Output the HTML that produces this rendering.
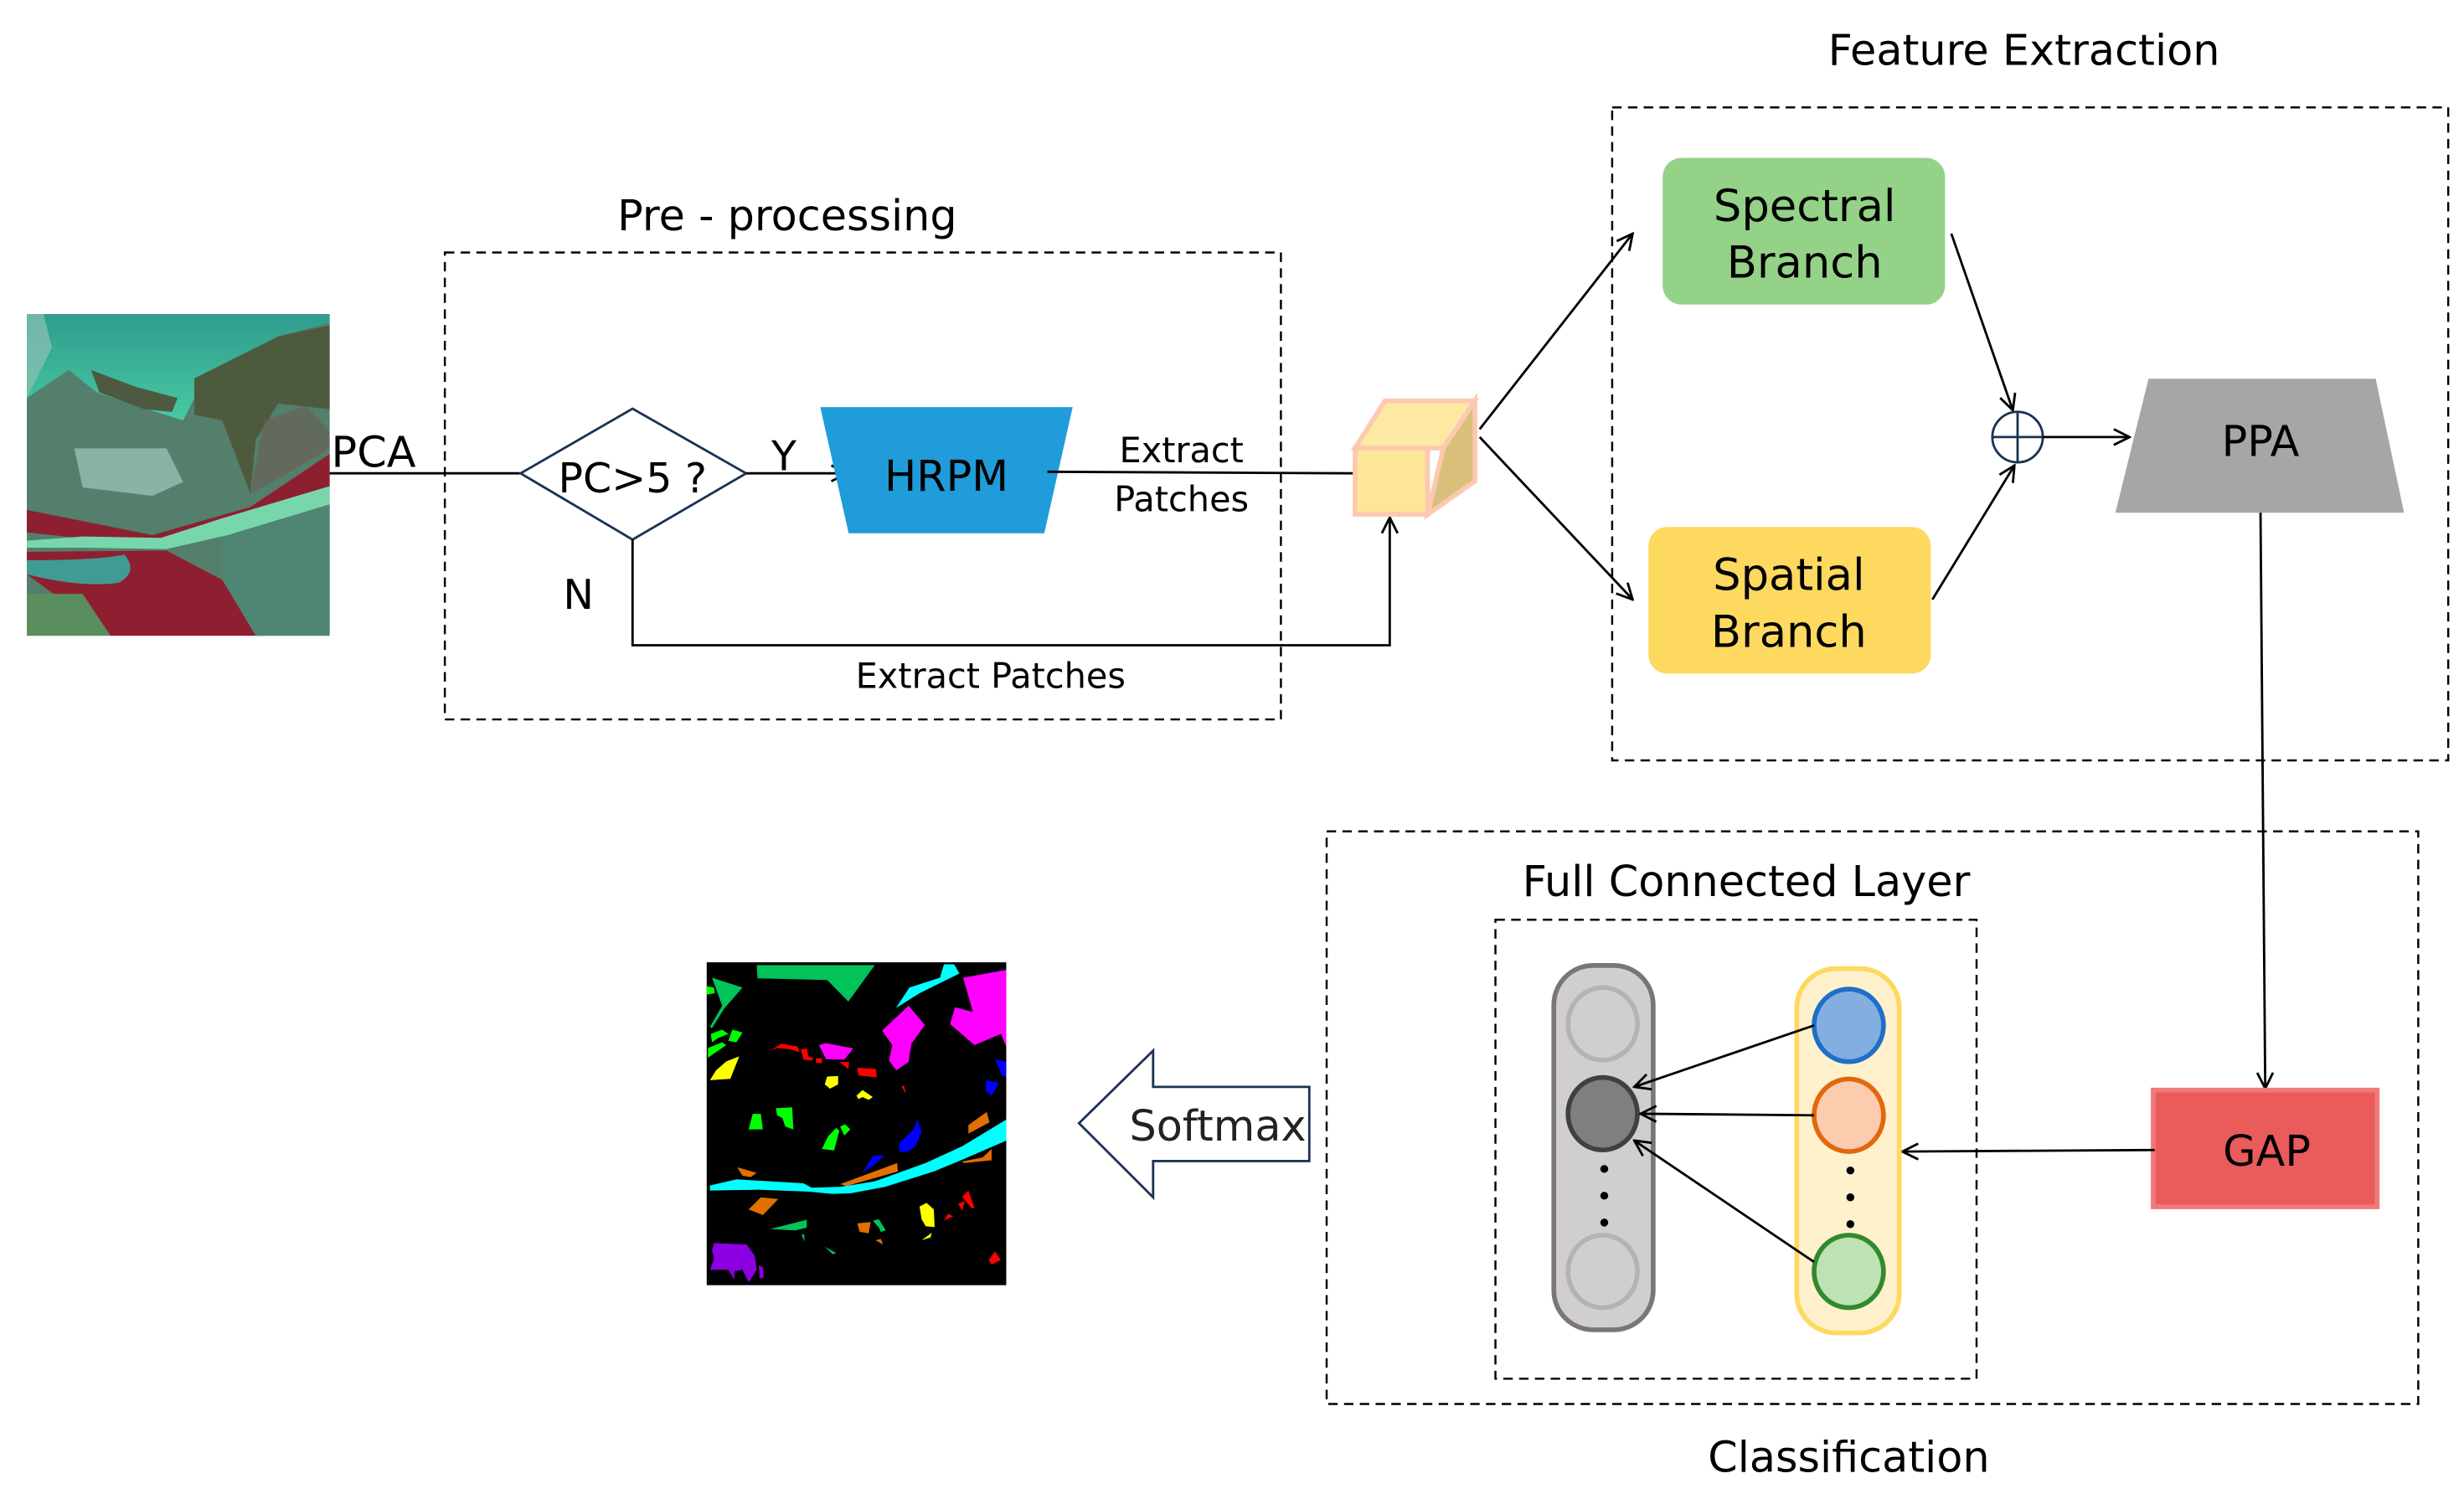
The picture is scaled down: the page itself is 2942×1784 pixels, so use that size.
<!DOCTYPE html>
<html><head><meta charset="utf-8"><style>
html,body{margin:0;padding:0;background:#fff;}
svg{display:block;}
text{font-family:"DejaVu Sans","Liberation Sans",sans-serif;}
</style></head><body>
<svg width="2942" height="1784" viewBox="0 0 1562 947" xmlns="http://www.w3.org/2000/svg">
<defs>
<marker id="ar" viewBox="0 0 12 12" refX="11" refY="6" markerWidth="12" markerHeight="12" markerUnits="userSpaceOnUse" orient="auto">
<polyline points="1,1 11,6 1,11" fill="none" stroke="#000" stroke-width="1.5"/>
</marker>
<linearGradient id="wat" x1="0" y1="0" x2="0" y2="1">
<stop offset="0" stop-color="#2f9c8c"/><stop offset="1" stop-color="#48c9a4"/>
</linearGradient>
<clipPath id="sc"><rect x="0" y="0" width="1085" height="1150"/></clipPath>
</defs>
<rect width="1562" height="947" fill="#fff"/>

<!-- satellite image -->
<g transform="translate(17,199) scale(0.177,0.1774)" clip-path="url(#sc)">
<rect x="0" y="0" width="1085" height="1150" fill="#537f6c"/>
<polygon points="0,0 1085,0 1085,30 900,80 640,220 560,380 400,330 250,280 150,200 0,300" fill="url(#wat)"/>
<polygon points="0,0 60,0 90,120 40,220 0,300" fill="#8fc0b4" opacity="0.7"/>
<polygon points="600,230 900,80 1085,40 1085,340 900,320 820,450 800,640 700,380 600,360" fill="#4e5a3e"/>
<polygon points="230,200 390,260 540,300 520,350 420,340 260,280" fill="#4d5a40"/>
<polygon points="170,480 500,480 560,600 450,650 200,620" fill="#9fc9bd" opacity="0.7"/>
<polygon points="800,640 850,380 1000,330 1085,420 1085,480 880,600" fill="#6b5c54" opacity="0.6"/>
<polygon points="0,700 450,790 800,690 1085,500 1085,620 700,760 450,830 0,780" fill="#8e1f30"/>
<polygon points="0,810 200,795 480,800 700,730 1085,615 1085,680 720,790 500,840 200,835 0,835" fill="#78d6ad"/>
<polygon points="0,850 500,845 700,950 850,1150 300,1150 0,930" fill="#8e1f30"/>
<path d="M0,880 Q250,880 350,860 Q400,920 330,960 Q200,980 0,930Z" fill="#3f9c93"/>
<polygon points="0,1000 200,1000 300,1150 0,1150" fill="#5a8e5e"/>
<polygon points="700,800 1085,680 1085,1150 820,1150 700,950" fill="#4f8573"/>
</g>

<!-- preprocessing box -->
<rect x="282" y="160" width="530" height="296" fill="none" stroke="#000" stroke-width="1.3" stroke-dasharray="6,4"/>
<text x="499" y="146" font-size="27" text-anchor="middle">Pre - processing</text>
<text x="210" y="296" font-size="27">PCA</text>
<line x1="209" y1="300" x2="330" y2="300" stroke="#000" stroke-width="1.5"/>
<polygon points="330,300 401,259 473,300 401,342" fill="#fff" stroke="#1a3354" stroke-width="1.5"/>
<text x="401" y="312" font-size="26" text-anchor="middle">PC&gt;5 ?</text>
<line x1="473" y1="300" x2="537" y2="300" stroke="#000" stroke-width="1.5" marker-end="url(#ar)"/>
<text x="489" y="298" font-size="26">Y</text>
<polygon points="520,258 680,258 662,338 538,338" fill="#1f9cd9"/>
<text x="600" y="311" font-size="27" text-anchor="middle">HRPM</text>
<line x1="664" y1="299" x2="858" y2="300" stroke="#000" stroke-width="1.5"/>
<text x="749" y="293" font-size="22" text-anchor="middle">Extract</text>
<text x="749" y="324" font-size="22" text-anchor="middle">Patches</text>
<text x="357" y="386" font-size="26">N</text>
<polyline points="401,342 401,409 881,409 881,328" fill="none" stroke="#000" stroke-width="1.5" marker-end="url(#ar)"/>
<text x="628" y="436" font-size="22" text-anchor="middle">Extract Patches</text>

<!-- cube -->
<polygon points="859,284 878,254 935,254 915,284" fill="#fee9a3" stroke="#fcc9b0" stroke-width="3"/>
<polygon points="915,284 935,254 935,305 905,326" fill="#d8c07a" stroke="#fcc9b0" stroke-width="3"/>
<rect x="859" y="284" width="46" height="42" fill="#fee699" stroke="#fcc9b0" stroke-width="3"/>

<line x1="938" y1="272" x2="1035" y2="148" stroke="#000" stroke-width="1.5" marker-end="url(#ar)"/>
<line x1="938" y1="277" x2="1035" y2="380" stroke="#000" stroke-width="1.5" marker-end="url(#ar)"/>

<!-- feature extraction -->
<rect x="1022" y="68" width="530" height="414" fill="none" stroke="#000" stroke-width="1.3" stroke-dasharray="6,4"/>
<text x="1283" y="41" font-size="27" text-anchor="middle">Feature Extraction</text>
<rect x="1054" y="100" width="179" height="93" rx="12" fill="#94d287"/>
<text x="1144" y="140" font-size="28" text-anchor="middle">Spectral</text>
<text x="1144" y="176" font-size="28" text-anchor="middle">Branch</text>
<rect x="1045" y="334" width="179" height="93" rx="12" fill="#fed95f"/>
<text x="1134" y="374" font-size="28" text-anchor="middle">Spatial</text>
<text x="1134" y="410" font-size="28" text-anchor="middle">Branch</text>
<line x1="1237" y1="148" x2="1276" y2="260" stroke="#000" stroke-width="1.5" marker-end="url(#ar)"/>
<line x1="1225" y1="380" x2="1277" y2="295" stroke="#000" stroke-width="1.5" marker-end="url(#ar)"/>
<circle cx="1279" cy="277" r="16" fill="#fff" stroke="#1a3354" stroke-width="1.5"/>
<line x1="1263" y1="277" x2="1295" y2="277" stroke="#1a3354" stroke-width="1.5"/>
<line x1="1279" y1="261" x2="1279" y2="293" stroke="#1a3354" stroke-width="1.5"/>
<line x1="1295" y1="277" x2="1350" y2="277" stroke="#000" stroke-width="1.5" marker-end="url(#ar)"/>
<polygon points="1362,240 1506,240 1524,325 1341,325" fill="#a6a6a6"/>
<text x="1433" y="289" font-size="27" text-anchor="middle">PPA</text>
<line x1="1433" y1="325" x2="1436" y2="690" stroke="#000" stroke-width="1.5" marker-end="url(#ar)"/>

<!-- classification -->
<rect x="841" y="527" width="692" height="363" fill="none" stroke="#000" stroke-width="1.3" stroke-dasharray="6,4"/>
<text x="1172" y="933" font-size="27" text-anchor="middle">Classification</text>
<rect x="948" y="583" width="305" height="291" fill="none" stroke="#000" stroke-width="1.3" stroke-dasharray="6,4"/>
<text x="1107" y="568" font-size="27" text-anchor="middle">Full Connected Layer</text>
<rect x="1365" y="691" width="142" height="74" fill="#ea5b5c" stroke="#f07a7a" stroke-width="3"/>
<text x="1437" y="739" font-size="27" text-anchor="middle">GAP</text>
<line x1="1366" y1="729" x2="1206" y2="730" stroke="#000" stroke-width="1.5" marker-end="url(#ar)"/>

<rect x="985" y="612" width="63" height="231" rx="25" fill="#d0cfce" stroke="#7a7676" stroke-width="3"/>
<ellipse cx="1016" cy="649" rx="22" ry="23" fill="#d0cfce" stroke="#b5b3b2" stroke-width="3"/>
<ellipse cx="1016" cy="706" rx="22" ry="23" fill="#7f7f7f" stroke="#404040" stroke-width="3"/>
<ellipse cx="1016" cy="806" rx="22" ry="23" fill="#d0cfce" stroke="#b5b3b2" stroke-width="3"/>
<circle cx="1017" cy="741" r="2.5" fill="#000"/><circle cx="1017" cy="758" r="2.5" fill="#000"/><circle cx="1017" cy="775" r="2.5" fill="#000"/>

<rect x="1139" y="614" width="65" height="231" rx="25" fill="#fff1cc" stroke="#fed95f" stroke-width="3"/>
<ellipse cx="1172" cy="650" rx="22" ry="23" fill="#83aedf" stroke="#1f6fc9" stroke-width="3"/>
<ellipse cx="1172" cy="707" rx="22" ry="23" fill="#fdcbad" stroke="#e3670e" stroke-width="3"/>
<ellipse cx="1172" cy="806" rx="22" ry="23" fill="#bde2b4" stroke="#328a2e" stroke-width="3"/>
<circle cx="1173" cy="742" r="2.5" fill="#000"/><circle cx="1173" cy="759" r="2.5" fill="#000"/><circle cx="1173" cy="776" r="2.5" fill="#000"/>
<line x1="1150" y1="650" x2="1036" y2="689" stroke="#000" stroke-width="1.5" marker-end="url(#ar)"/>
<line x1="1150" y1="707" x2="1040" y2="706" stroke="#000" stroke-width="1.5" marker-end="url(#ar)"/>
<line x1="1150" y1="800" x2="1036" y2="723" stroke="#000" stroke-width="1.5" marker-end="url(#ar)"/>

<!-- softmax arrow -->
<polygon points="684,712 731,666 731,689 830,689 830,736 731,736 731,759" fill="#fff" stroke="#1a3354" stroke-width="1.5"/>
<text x="772" y="723" font-size="27" text-anchor="middle" fill="#222">Softmax</text>

<!-- classification map -->
<g transform="translate(448,610) scale(0.258,0.178) translate(-22,-45)">
<rect x="22" y="45" width="736" height="1150" fill="#000"/>
<polygon points="145,55 435,55 370,185 318,108 147,102" fill="#00c45a"/>
<polygon points="487,208 520,135 595,100 605,52 630,52 643,85 545,155" fill="#00ffff"/>
<polygon points="652,100 758,72 758,345 745,300 680,340 620,265 632,205 676,222" fill="#ff00ff"/>
<polygon points="453,288 518,200 558,268 525,335 518,400 488,430 470,395 478,340" fill="#ff00ff"/>
<polygon points="298,340 315,333 382,352 360,392 315,390" fill="#ff00ff"/>
<polygon points="178,360 205,335 245,345 250,365 228,355 195,350" fill="#ff0000"/>
<polygon points="253,355 268,352 272,382 285,385 280,395 260,392" fill="#ff0000"/>
<polygon points="290,388 305,385 305,405 290,402" fill="#ff0000"/>
<polygon points="348,400 372,400 370,425" fill="#ff0000"/>
<polygon points="392,420 438,425 440,455 395,448" fill="#ff0000"/>
<polygon points="500,485 507,485 512,515" fill="#ff0000"/>
<polygon points="30,465 45,430 70,398 102,380 80,460" fill="#ffff00"/>
<polygon points="318,452 345,450 345,480 325,495 312,480" fill="#ffff00"/>
<polygon points="390,520 405,500 430,525 420,535 405,525 395,532" fill="#ffff00"/>
<polygon points="22,130 40,135 42,155 22,160" fill="#00ff00"/>
<polygon points="35,100 110,135 65,210 35,280 30,275 60,200" fill="#00c45a"/>
<polygon points="32,300 60,285 75,300 50,315 35,330" fill="#00ff00"/>
<polygon points="25,350 60,330 70,340 25,385" fill="#00ff00"/>
<polygon points="85,285 110,295 95,330 75,325" fill="#00ff00"/>
<polygon points="135,585 155,585 160,640 125,640" fill="#00ff00"/>
<polygon points="192,565 232,562 235,640 215,630 208,600 195,590" fill="#00ff00"/>
<polygon points="305,710 320,665 340,635 348,645 335,715" fill="#00ff00"/>
<polygon points="350,630 362,622 375,640 360,662" fill="#00ff00"/>
<polygon points="730,390 758,400 758,450 748,450" fill="#0000ff"/>
<polygon points="708,465 740,475 722,520 708,505" fill="#0000ff"/>
<polygon points="495,690 530,640 540,605 550,650 535,700 515,720 495,720" fill="#0000ff"/>
<polygon points="405,795 430,735 458,732 440,760" fill="#0000ff"/>
<polygon points="30,840 95,818 260,832 280,848 350,845 435,825 560,760 650,700 758,605 758,680 655,745 580,790 460,845 375,868 330,870 275,862 150,855 30,858" fill="#00ffff"/>
<polygon points="350,835 490,760 492,790 365,842" fill="#e07000"/>
<polygon points="665,625 710,578 717,615 665,655" fill="#e07000"/>
<polygon points="648,755 700,740 722,710 722,750 655,760" fill="#e07000"/>
<polygon points="97,775 145,795 130,810 110,805" fill="#e07000"/>
<polygon points="125,925 155,882 198,888 160,945" fill="#e07000"/>
<polygon points="392,975 425,970 420,1010 398,1005" fill="#e07000"/>
<polygon points="437,1035 450,1030 455,1050" fill="#e07000"/>
<polygon points="178,995 268,962 268,990 240,1000" fill="#00c45a"/>
<polygon points="430,965 445,960 462,1000 450,1005 445,990" fill="#00c45a"/>
<polygon points="312,1058 340,1080 332,1085" fill="#00c45a"/>
<polygon points="255,1015 262,1015 262,1040" fill="#00c45a"/>
<polygon points="545,915 562,902 580,925 582,988 560,985 550,960" fill="#ffff00"/>
<polygon points="550,1035 575,1008 572,1025" fill="#ffff00"/>
<polygon points="650,880 665,858 680,920 672,920" fill="#ff0000"/>
<polygon points="605,965 615,940 628,950" fill="#ff0000"/>
<polygon points="640,905 656,895 650,930" fill="#ff0000"/>
<polygon points="715,1105 730,1075 745,1105 722,1122" fill="#ff0000"/>
<polygon points="40,1045 120,1050 140,1090 145,1140 125,1185 110,1140 90,1145 90,1175 75,1140 30,1140 40,1100 35,1070" fill="#8a00e0"/>
<polygon points="150,1125 160,1130 162,1170 152,1170" fill="#8a00e0"/>
</g>
</svg>
</body></html>
